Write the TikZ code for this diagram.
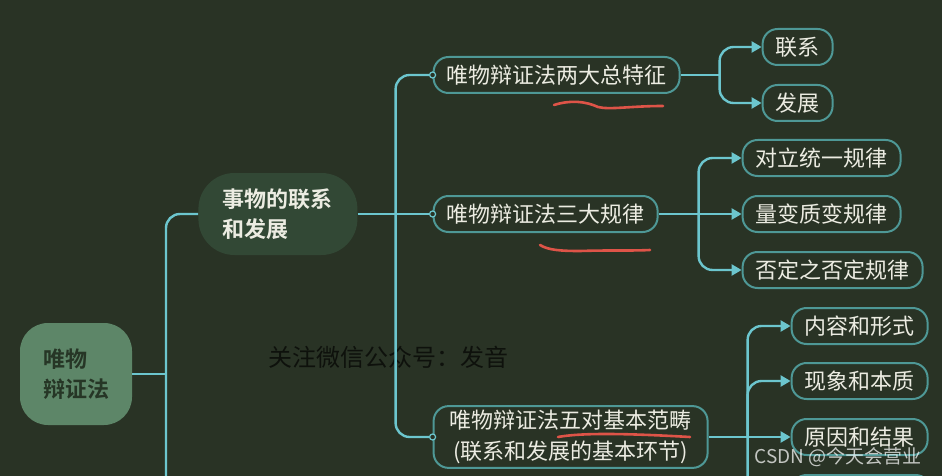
\documentclass[tikz,border=0pt]{standalone}
\usepackage{fontspec}
\setmainfont{Noto Sans CJK SC}[BoldFont={Noto Sans CJK SC Bold}]
\usepackage{tikz}
\usetikzlibrary{arrows.meta, positioning, calc}
\definecolor{mybg}{RGB}{41,51,37}
\definecolor{myroot}{RGB}{93,134,104}
\definecolor{rootink}{RGB}{38,54,38}
\definecolor{mytopic}{RGB}{50,72,53}
\definecolor{myteal}{RGB}{78,152,150}
\definecolor{mycyan}{RGB}{108,198,206}
\definecolor{myink}{RGB}{236,236,226}
\definecolor{myred}{RGB}{222,84,72}
\definecolor{wmink}{RGB}{14,17,12}
\tikzset{
  rootbox/.style={rectangle, fill=myroot, text=rootink, align=left,
    minimum width=112pt, minimum height=102pt, rounded corners=28pt,
    font=\fontsize{22}{30}\selectfont\bfseries},
  topicbox/.style={rectangle, fill=mytopic, text=myink, align=left,
    minimum width=159pt, minimum height=82pt, rounded corners=36pt,
    font=\fontsize{22}{30}\selectfont\bfseries},
  subbox/.style={rectangle, draw=myteal, fill=mybg, text=myink,
    line width=2pt, rounded corners=15pt, inner xsep=13pt, inner ysep=4pt,
    minimum height=36pt, font=\fontsize{22}{31}\selectfont},
  leafbox/.style={subbox},
  knob/.style={circle, draw=mycyan, fill=mybg, line width=1.2pt,
    inner sep=0pt, minimum size=6pt},
  conn/.style={line width=2.4pt, color=mycyan},
  arr/.style={conn, -{Triangle[length=10pt,width=11pt]}},
  redline/.style={line width=2.6pt, color=myred, line cap=round},
  wmark/.style={text=wmink, font=\fontsize{24}{24}\selectfont\color{wmink}},
  csdn/.style={text=white, opacity=0.72, font=\fontsize{19}{19}\selectfont}
}
\begin{document}
\begin{tikzpicture}[x=1pt, y=-1pt]
  % Background
  \useasboundingbox (0,0) rectangle (942,476);
  \fill[mybg] (0,0) rectangle (942,476);
  \clip (0,0) rectangle (942,476);

  % Watermark behind the tree
  \node[wmark] (wm) at (388,357) {关注微信公众号：发音};

  % Root and topic
  \node[rootbox] (root) at (76,374) {唯物\\辩证法};
  \node[topicbox, right=66pt of root, yshift=160pt] (lf) {事物的联系\\和发展};

  % Second level
  \node[subbox, right=75pt of lf, yshift=139pt] (tz) {唯物辩证法两大总特征};
  \node[subbox, right=75pt of lf] (gl) {唯物辩证法三大规律};
  \node[subbox, right=75pt of lf, yshift=-223pt, align=center, inner xsep=16pt] (fc)
    {唯物辩证法五对基本范畴\\(联系和发展的基本环节)};

  % Leaves
  \node[leafbox, right=81pt of tz, yshift=28pt] (lx) {联系};
  \node[leafbox, right=81pt of tz, yshift=-28pt] (fz) {发展};
  \node[leafbox, right=83pt of gl, yshift=56pt] (dl) {对立统一规律};
  \node[leafbox, right=83pt of gl] (lb) {量变质变规律};
  \node[leafbox, right=83pt of gl, yshift=-56pt] (fd) {否定之否定规律};
  \node[leafbox, right=82pt of fc, yshift=111pt] (nr) {内容和形式};
  \node[leafbox, right=82pt of fc, yshift=56pt] (xx) {现象和本质};
  \node[leafbox, right=82pt of fc] (yy) {原因和结果};
  \node[leafbox, right=82pt of fc, yshift=-56pt, minimum width=139pt] (br) {};

  % Trunks
  \coordinate (t1) at (166,476);
  \coordinate[right=38pt of lf.east] (j1);
  \coordinate[right=39pt of tz.east] (j2);
  \coordinate[right=40pt of gl.east] (j3);
  \coordinate[right=39pt of fc.east] (j4);

  % Connections
  \draw[conn] (root.east) -- (root.east -| t1);
  \draw[conn, rounded corners=14pt] (t1) |- (lf.west);
  \draw[conn] (lf.east) -- (gl.west);
  \draw[conn, rounded corners=14pt] (j1) |- (tz.west);
  \draw[conn, rounded corners=14pt] (j1) |- (fc.west);
  \draw[conn] (tz.east) -- (j2);
  \draw[arr, rounded corners=14pt] (j2) |- (lx.west);
  \draw[arr, rounded corners=14pt] (j2) |- (fz.west);
  \draw[arr] (gl.east) -- (lb.west);
  \draw[arr, rounded corners=14pt] (j3) |- (dl.west);
  \draw[arr, rounded corners=14pt] (j3) |- (fd.west);
  \draw[arr] (fc.east) -- (yy.west);
  \draw[arr, rounded corners=14pt] (j4) |- (nr.west);
  \draw[arr, rounded corners=14pt] (j4) |- (xx.west);
  \draw[arr, rounded corners=14pt] (j4) |- (br.west);
  \node[knob] at (tz.west) {};
  \node[knob] at (gl.west) {};
  \node[knob] at (fc.west) {};

  % Red marks
  \draw[redline] (554,105) .. controls (570,100) and (585,101) .. (598,107)
    .. controls (610,110) and (630,106) .. (663,106);
  \draw[redline] (540,245) .. controls (548,250) and (560,251) .. (580,251)
    .. controls (610,250) and (630,251) .. (650,250);
  \draw[redline] (558,437) .. controls (580,433) and (620,433) .. (690,437);

  % CSDN mark
  \node[csdn] (cs) at (838,457) {CSDN @今天会营业};
\end{tikzpicture}
\end{document}
